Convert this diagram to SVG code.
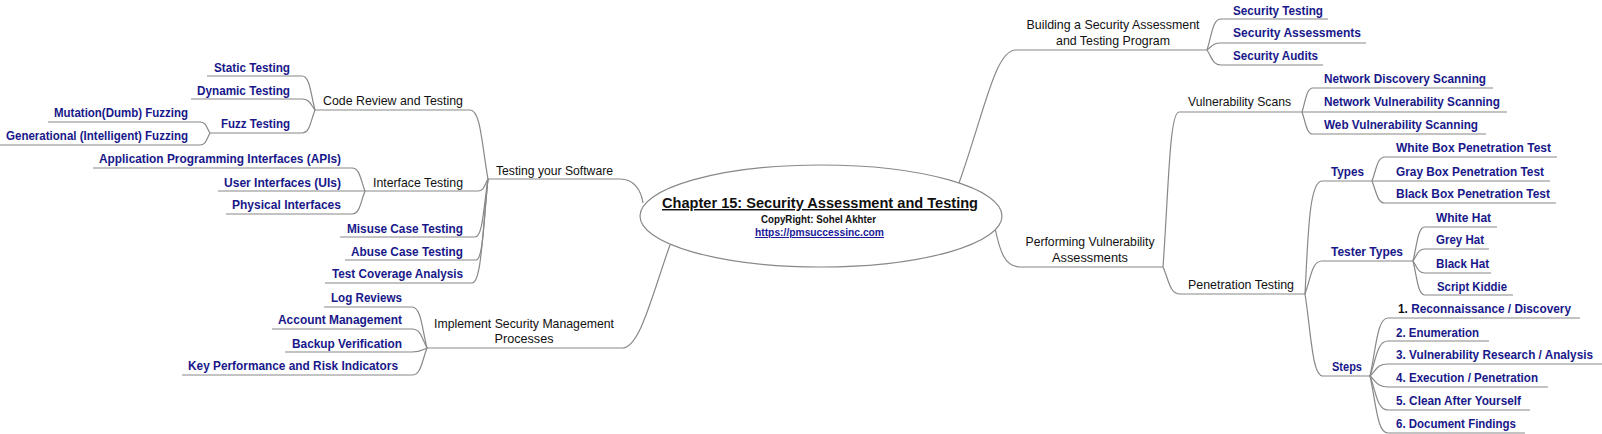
<svg xmlns="http://www.w3.org/2000/svg" width="1602" height="434" viewBox="0 0 1602 434">
<style>
.c{fill:none;stroke:#888888;stroke-width:1.2}
.t{font-family:"Liberation Sans",Arial,sans-serif;font-size:12.4px;fill:#111111}
.l{font-family:"Liberation Sans",Arial,sans-serif;font-size:12.3px;font-weight:bold;fill:#18188a}
.e{text-anchor:end}
.m{text-anchor:middle}
</style>
<rect width="1602" height="434" fill="#ffffff"/>
<g id="connectors">
<path class="c" d="M643,203 C641,190 634,179 620,179 H488"/>
<path class="c" d="M670,245 C652,295 640,348 622,348 H427"/>
<path class="c" d="M959,183 C985,110 995,50 1016,50 H1207"/>
<path class="c" d="M995,228 C1000,252 1005,267 1020,267 H1163"/>
<path class="c" d="M488,179 C481.7,144.5 480.8,110 470,110 H315"/>
<path class="c" d="M488,179 C484.5,185 484,191 478,191 H365"/>
<path class="c" d="M488,179 C483.4,208 482.8,237 475,237 H340"/>
<path class="c" d="M488,179 C483.8,219.5 483.2,260 476,260 H345"/>
<path class="c" d="M488,179 C482.4,231 481.6,283 472,283 H325"/>
<path class="c" d="M315,110 C310.5,93 309.8,76 302,76 H207"/>
<path class="c" d="M315,110 C310.5,104.5 309.8,99 302,99 H191"/>
<path class="c" d="M315,110 C310.5,121.5 309.8,133 302,133 H210"/>
<path class="c" d="M210,133 C206.5,127.5 206,122 200,122 H48"/>
<path class="c" d="M210,133 C206.5,139 206,145 200,145 H0"/>
<path class="c" d="M365,191 C360.5,179.5 359.8,168 352,168 H93"/>
<path class="c" d="M365,191 H218"/>
<path class="c" d="M365,191 C360.5,202.5 359.8,214 352,214 H226"/>
<path class="c" d="M427,348 C421.8,327.5 421,307 412,307 H324"/>
<path class="c" d="M427,348 C421.8,338.5 421,329 412,329 H272"/>
<path class="c" d="M427,348 C421.8,350 421,352 412,352 H285"/>
<path class="c" d="M427,348 C421.8,361.5 421,375 412,375 H182"/>
<path class="c" d="M1207,50 C1211.9,34.5 1212.6,19 1221,19 H1328"/>
<path class="c" d="M1207,50 C1211.9,46.5 1212.6,43 1221,43 H1366"/>
<path class="c" d="M1207,50 C1211.9,57.5 1212.6,65 1221,65 H1323"/>
<path class="c" d="M1163,267 C1168.6,189.5 1169.4,112 1179,112 H1302"/>
<path class="c" d="M1163,267 C1169,280.5 1169.8,294 1180,294 H1305"/>
<path class="c" d="M1302,112 C1305.9,100 1306.4,88 1313,88 H1493"/>
<path class="c" d="M1302,112 H1507"/>
<path class="c" d="M1302,112 C1305.9,123 1306.4,134 1313,134 H1486"/>
<path class="c" d="M1305,294 C1308,237 1309,181 1322,181 H1372"/>
<path class="c" d="M1305,294 C1311,277.5 1311.8,261 1322,261 H1413"/>
<path class="c" d="M1305,294 C1311.3,335 1312.2,376 1323,376 H1370"/>
<path class="c" d="M1372,181 C1376.5,169 1377.2,157 1385,157 H1557"/>
<path class="c" d="M1372,181 H1550"/>
<path class="c" d="M1372,181 C1376.5,192 1377.2,203 1385,203 H1556"/>
<path class="c" d="M1413,261 C1417.2,244 1417.8,227 1425,227 H1497"/>
<path class="c" d="M1413,261 C1417.2,255 1417.8,249 1425,249 H1489"/>
<path class="c" d="M1413,261 C1417.2,267 1417.8,273 1425,273 H1491"/>
<path class="c" d="M1413,261 C1417.2,278 1417.8,295 1425,295 H1513"/>
<path class="c" d="M1370,376 C1376.3,347 1377.2,318 1388,318 H1580"/>
<path class="c" d="M1370,376 C1376.3,358.5 1377.2,341 1388,341 H1489"/>
<path class="c" d="M1370,376 C1376.3,370 1377.2,364 1388,364 H1602"/>
<path class="c" d="M1370,376 C1376.3,381.5 1377.2,387 1388,387 H1548"/>
<path class="c" d="M1370,376 C1376.3,393 1377.2,410 1388,410 H1530"/>
<path class="c" d="M1370,376 C1376.3,404.5 1377.2,433 1388,433 H1525"/>
</g>
<g id="root">
<ellipse cx="821" cy="216" rx="181" ry="51" fill="#ffffff" stroke="#888888" stroke-width="1.2"/>
<text x="820" y="208" text-anchor="middle" font-family="Liberation Sans, Arial, sans-serif" font-size="14.5" font-weight="bold" text-decoration="underline" fill="#111111" textLength="316" lengthAdjust="spacingAndGlyphs">Chapter 15: Security Assessment and Testing</text>
<text x="818.5" y="223" text-anchor="middle" font-family="Liberation Sans, Arial, sans-serif" font-size="10" font-weight="bold" fill="#111111" textLength="115" lengthAdjust="spacingAndGlyphs">CopyRight: Sohel Akhter</text>
<text x="819.5" y="236" text-anchor="middle" font-family="Liberation Sans, Arial, sans-serif" font-size="10" font-weight="bold" text-decoration="underline" fill="#1a1a9a" textLength="129" lengthAdjust="spacingAndGlyphs">https://pmsuccessinc.com</text>
</g>
<g id="testing-software"><text class="t" x="496" y="175" textLength="117" lengthAdjust="spacingAndGlyphs">Testing your Software</text></g>
<g id="code-review"><text class="t e" x="463" y="105" textLength="140" lengthAdjust="spacingAndGlyphs">Code Review and Testing</text></g>
<g id="static-testing"><text class="l e" x="290" y="72" textLength="76" lengthAdjust="spacingAndGlyphs">Static Testing</text></g>
<g id="dynamic-testing"><text class="l e" x="290" y="95" textLength="93" lengthAdjust="spacingAndGlyphs">Dynamic Testing</text></g>
<g id="fuzz-testing"><text class="l e" x="290" y="128" textLength="69" lengthAdjust="spacingAndGlyphs">Fuzz Testing</text></g>
<g id="mutation-fuzzing"><text class="l e" x="188" y="117" textLength="134" lengthAdjust="spacingAndGlyphs">Mutation(Dumb) Fuzzing</text></g>
<g id="generational-fuzzing"><text class="l e" x="188" y="140" textLength="182" lengthAdjust="spacingAndGlyphs">Generational (Intelligent) Fuzzing</text></g>
<g id="interface-testing"><text class="t e" x="463" y="187" textLength="90" lengthAdjust="spacingAndGlyphs">Interface Testing</text></g>
<g id="apis"><text class="l e" x="341" y="163" textLength="242" lengthAdjust="spacingAndGlyphs">Application Programming Interfaces (APIs)</text></g>
<g id="uis"><text class="l e" x="341" y="187" textLength="117" lengthAdjust="spacingAndGlyphs">User Interfaces (UIs)</text></g>
<g id="physical-interfaces"><text class="l e" x="341" y="209" textLength="109" lengthAdjust="spacingAndGlyphs">Physical Interfaces</text></g>
<g id="misuse-case"><text class="l e" x="463" y="233" textLength="116" lengthAdjust="spacingAndGlyphs">Misuse Case Testing</text></g>
<g id="abuse-case"><text class="l e" x="463" y="256" textLength="112" lengthAdjust="spacingAndGlyphs">Abuse Case Testing</text></g>
<g id="test-coverage"><text class="l e" x="463" y="278" textLength="131" lengthAdjust="spacingAndGlyphs">Test Coverage Analysis</text></g>
<g id="implement-processes"><text class="t m" x="524" y="328" textLength="180" lengthAdjust="spacingAndGlyphs">Implement Security Management</text><text class="t m" x="524" y="343" textLength="59" lengthAdjust="spacingAndGlyphs">Processes</text></g>
<g id="log-reviews"><text class="l e" x="402" y="302" textLength="71" lengthAdjust="spacingAndGlyphs">Log Reviews</text></g>
<g id="account-management"><text class="l e" x="402" y="324" textLength="124" lengthAdjust="spacingAndGlyphs">Account Management</text></g>
<g id="backup-verification"><text class="l e" x="402" y="348" textLength="110" lengthAdjust="spacingAndGlyphs">Backup Verification</text></g>
<g id="kpi-kri"><text class="l e" x="398" y="370" textLength="210" lengthAdjust="spacingAndGlyphs">Key Performance and Risk Indicators</text></g>
<g id="building-program"><text class="t m" x="1113" y="29" textLength="173" lengthAdjust="spacingAndGlyphs">Building a Security Assessment</text><text class="t m" x="1113" y="45" textLength="114" lengthAdjust="spacingAndGlyphs">and Testing Program</text></g>
<g id="security-testing"><text class="l" x="1233" y="15" textLength="90" lengthAdjust="spacingAndGlyphs">Security Testing</text></g>
<g id="security-assessments"><text class="l" x="1233" y="37" textLength="128" lengthAdjust="spacingAndGlyphs">Security Assessments</text></g>
<g id="security-audits"><text class="l" x="1233" y="60" textLength="85" lengthAdjust="spacingAndGlyphs">Security Audits</text></g>
<g id="performing-assessments"><text class="t m" x="1090" y="246" textLength="129" lengthAdjust="spacingAndGlyphs">Performing Vulnerability</text><text class="t m" x="1090" y="262" textLength="76" lengthAdjust="spacingAndGlyphs">Assessments</text></g>
<g id="vulnerability-scans"><text class="t" x="1188" y="106" textLength="103" lengthAdjust="spacingAndGlyphs">Vulnerability Scans</text></g>
<g id="network-discovery"><text class="l" x="1324" y="83" textLength="162" lengthAdjust="spacingAndGlyphs">Network Discovery Scanning</text></g>
<g id="network-vulnerability"><text class="l" x="1324" y="106" textLength="176" lengthAdjust="spacingAndGlyphs">Network Vulnerability Scanning</text></g>
<g id="web-vulnerability"><text class="l" x="1324" y="129" textLength="154" lengthAdjust="spacingAndGlyphs">Web Vulnerability Scanning</text></g>
<g id="penetration-testing"><text class="t" x="1188" y="289" textLength="106" lengthAdjust="spacingAndGlyphs">Penetration Testing</text></g>
<g id="types"><text class="l" x="1331" y="176" textLength="33" lengthAdjust="spacingAndGlyphs">Types</text></g>
<g id="white-box"><text class="l" x="1396" y="152" textLength="155" lengthAdjust="spacingAndGlyphs">White Box Penetration Test</text></g>
<g id="gray-box"><text class="l" x="1396" y="176" textLength="148" lengthAdjust="spacingAndGlyphs">Gray Box Penetration Test</text></g>
<g id="black-box"><text class="l" x="1396" y="198" textLength="154" lengthAdjust="spacingAndGlyphs">Black Box Penetration Test</text></g>
<g id="tester-types"><text class="l" x="1331" y="256" textLength="72" lengthAdjust="spacingAndGlyphs">Tester Types</text></g>
<g id="white-hat"><text class="l" x="1436" y="222" textLength="55" lengthAdjust="spacingAndGlyphs">White Hat</text></g>
<g id="grey-hat"><text class="l" x="1436" y="244" textLength="48" lengthAdjust="spacingAndGlyphs">Grey Hat</text></g>
<g id="black-hat"><text class="l" x="1436" y="268" textLength="53" lengthAdjust="spacingAndGlyphs">Black Hat</text></g>
<g id="script-kiddie"><text class="l" x="1437" y="291" textLength="70" lengthAdjust="spacingAndGlyphs">Script Kiddie</text></g>
<g id="steps"><text class="l" x="1332" y="371" textLength="30" lengthAdjust="spacingAndGlyphs">Steps</text></g>
<g id="step-1"><text class="l" x="1398" y="313" textLength="173" lengthAdjust="spacingAndGlyphs"><tspan fill="#111111">1.</tspan> Reconnaissance / Discovery</text></g>
<g id="step-2"><text class="l" x="1396" y="337" textLength="83" lengthAdjust="spacingAndGlyphs">2. Enumeration</text></g>
<g id="step-3"><text class="l" x="1396" y="359" textLength="197" lengthAdjust="spacingAndGlyphs">3. Vulnerability Research / Analysis</text></g>
<g id="step-4"><text class="l" x="1396" y="382" textLength="142" lengthAdjust="spacingAndGlyphs">4. Execution / Penetration</text></g>
<g id="step-5"><text class="l" x="1396" y="405" textLength="125" lengthAdjust="spacingAndGlyphs">5. Clean After Yourself</text></g>
<g id="step-6"><text class="l" x="1396" y="428" textLength="120" lengthAdjust="spacingAndGlyphs">6. Document Findings</text></g>
</svg>
